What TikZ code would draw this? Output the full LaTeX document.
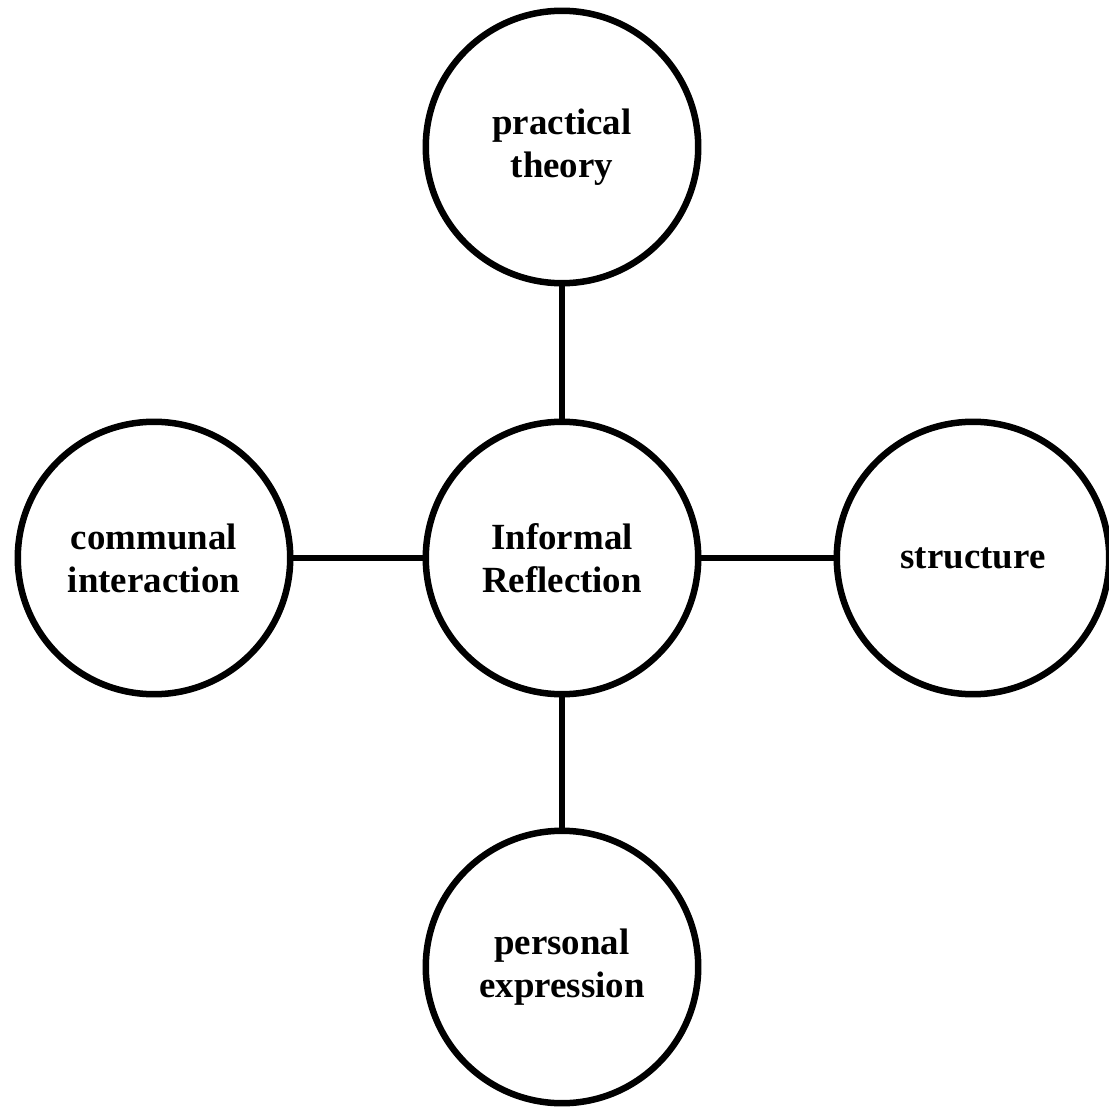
\documentclass[tikz,border=0pt]{standalone}
\usepackage{fontspec}
\setmainfont{Liberation Serif}
\usetikzlibrary{shapes, positioning}
\tikzstyle{topic}=[circle,draw=black,line width=0.13cm,minimum size=5.45cm,inner sep=0pt,align=center,font=\bfseries\fontsize{21}{24.5}\selectfont]
\tikzstyle{link}=[line width=0.12cm]

\begin{document}
\begin{tikzpicture}[x=0.02cm,y=-0.02cm]
  \useasboundingbox (0,0) rectangle (1109,1108);

  \foreach \name/\lbl/\x/\y in {C/{Informal\\Reflection}/562/558, T/{practical\\theory}/562/147, B/{personal\\expression}/562/967, L/{communal\\interaction}/154/558, R/{structure}/973/558}
    \node[topic] (P-\name) at (\x,\y) {\lbl};

    \draw[link] (P-C) -- (P-T);
    \draw[link] (P-C) -- (P-B);
    \draw[link] (P-C) -- (P-L);
    \draw[link] (P-C) -- (P-R);

\end{tikzpicture}
\end{document}
